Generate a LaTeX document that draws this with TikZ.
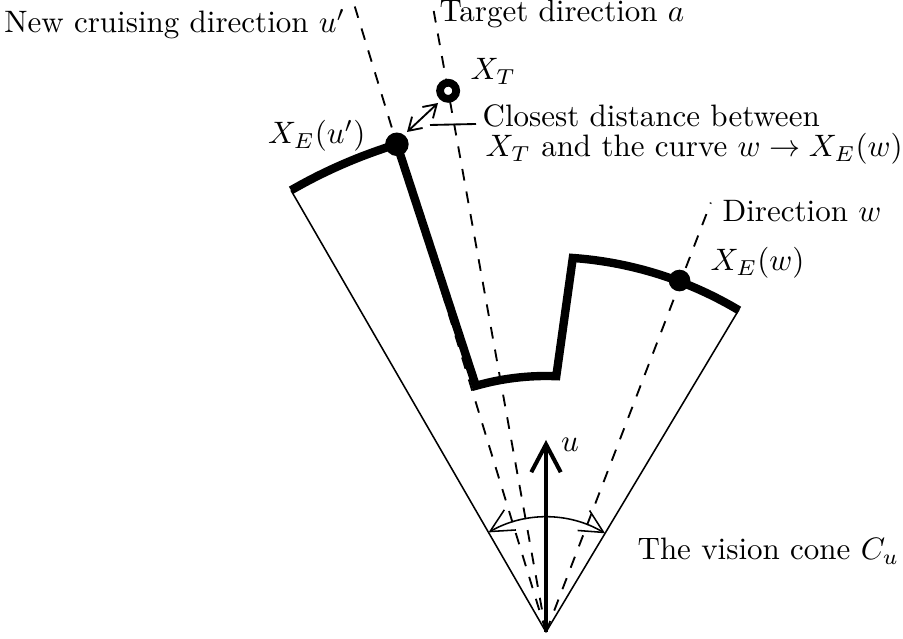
\documentclass[tikz,border=0pt]{standalone}
\usetikzlibrary{arrows.meta}
\begin{document}
\begin{tikzpicture}[x=0.3226pt,y=0.3226pt,
  thinline/.style={line width=0.5pt},
  dashline/.style={dash pattern=on 3.8pt off 3.6pt, line width=0.6pt},
  curve/.style={line width=2.7pt},
  lbl/.style={inner sep=0pt}]
\useasboundingbox (0,0) rectangle (903,639);
\coordinate (O) at (546,7);
\path (O) ++(120:510) coordinate (L);
\path (O) ++(59.1:376) coordinate (R);
\path (O) ++(107:510) coordinate (XEu);
\path (O) ++(107:655) coordinate (Utop);
\path (O) ++(100.25:637) coordinate (Atop);
\path (O) ++(100.25:550) coordinate (XT);
\path (O) ++(69:460) coordinate (Wtop);
\path (O) ++(69.2:376) coordinate (XEw);
\path (O) ++(105.9:256) coordinate (P1);
\path (O) ++(85.9:375) coordinate (P3);
\path (O) ++(120:115) coordinate (C1);
\coordinate (Utip) at (546,199);
% cone boundaries
\draw[thinline] (O) -- (L);
\draw[thinline] (O) -- (R);
% dashed directions
\draw[dashline] (O) -- (Utop);
\draw[dashline] (O) -- (Atop);
\draw[dashline] (O) -- (Wtop);
% thick curve
\draw[curve] (L) arc[start angle=120, end angle=107, radius=510] -- (P1)
  arc[start angle=105.9, end angle=87.7, radius=256] -- (P3)
  arc[start angle=85.9, end angle=59.1, radius=376];
% vision cone arc
\draw[thinline, {Straight Barb[length=7.5pt,width=7.5pt]}-{Straight Barb[length=7.5pt,width=7.5pt]}]
  (C1) arc[start angle=120, end angle=59.1, radius=115];
% u arrow
\draw[line width=1.3pt, -{Straight Barb[length=9pt,width=9.5pt]}] (O) -- (Utip);
% markers
\node[circle, fill, inner sep=0pt, minimum size=7.6pt] (xeu) at (XEu) {};
\node[circle, draw, fill=white, line width=2.5pt, inner sep=0pt, minimum size=5.2pt] (xt) at (XT) {};
\node[circle, fill, inner sep=0pt, minimum size=7pt] (xew) at (XEw) {};
% closest distance arrow
\coordinate (D1) at (407,507);
\coordinate (D2) at (438,536);
\draw[line width=0.6pt, {Straight Barb[length=4pt,width=5pt]}-{Straight Barb[length=4pt,width=5pt]}] (D1) -- (D2);
\coordinate (K1) at (430,514);
\coordinate (K2) at (476,515);
\draw[line width=0.6pt] (K1) -- (K2);
% labels
\node[lbl, anchor=base east] (lu) at (346,606) {New cruising direction $u'$};
\node[lbl, anchor=base west] (la) at (439,617) {Target direction $a$};
\node[lbl, anchor=base west] (lxt) at (470,559) {$X_T$};
\node[lbl, anchor=east] (lxeu) at (366,503) {$X_E(u')$};
\node[lbl, anchor=north west, align=left] (lcd) at (482,535) {Closest distance between\\[-2.3pt]\hspace*{1pt}$X_T$ and the curve $w\to X_E(w)$};
\node[lbl, anchor=base west] (lw) at (722,417) {Direction $w$};
\node[lbl, anchor=west] (lxew) at (710,376) {$X_E(w)$};
\node[lbl] (luu) at (570,194) {$u$};
\node[lbl, anchor=base west] (lc) at (637,79) {The vision cone $C_u$};
\end{tikzpicture}
\end{document}
